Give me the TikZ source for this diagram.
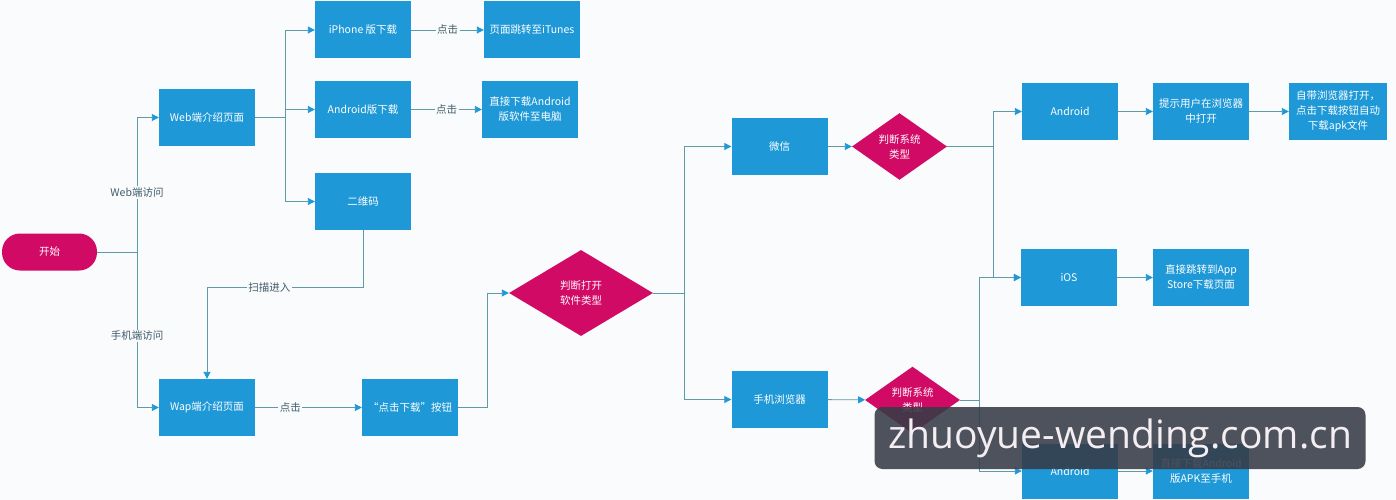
\documentclass[tikz,border=0pt]{standalone}
\usepackage{fontspec}
\setmainfont{Noto Sans CJK SC}
\newfontfamily\wmfont{Open Sans}
\usetikzlibrary{shapes.geometric,arrows.meta}
\definecolor{bg}{HTML}{F9FBFC}
\definecolor{boxblue}{HTML}{1E98D7}
\definecolor{mag}{HTML}{D10A66}
\definecolor{lin}{HTML}{5E9AA8}
\definecolor{lbl}{HTML}{3F5D6A}
\definecolor{wmbg}{HTML}{363B47}
\definecolor{wmtx}{HTML}{F4EEF2}
\begin{document}
\begin{tikzpicture}[x=1pt,y=-1pt,
  box/.style={rectangle, fill=boxblue, text=white, minimum width=96pt, minimum height=57pt, inner sep=0pt, align=center, font=\fontsize{10.5}{15}\selectfont},
  dia/.style={diamond, fill=mag, text=white, inner sep=0pt, align=center, font=\fontsize{10.5}{15}\selectfont},
  conn/.style={draw=lin, line width=0.9pt, -{Triangle[width=7pt,length=7pt,color=boxblue]}},
  plain/.style={draw=lin, line width=0.9pt},
  lab/.style={fill=bg, text=lbl, inner sep=1.5pt, font=\fontsize{10.5}{13}\selectfont}
]
\fill[bg] (0,0) rectangle (1396,500);
\useasboundingbox (0,0) rectangle (1396,500);

% nodes
\node[rectangle, rounded corners=18pt, fill=mag, text=white, minimum width=95pt, minimum height=37pt, inner sep=0pt, font=\fontsize{10.5}{13}\selectfont] (start) at (49.5,252) {开始};
\node[box] (web) at (207,117.5) {Web端介绍页面};
\node[box] (iph) at (363,30) {iPhone 版下载};
\node[box] (itu) at (532,30) {页面跳转至iTunes};
\node[box] (andl) at (363,109.5) {Android版下载};
\node[box] (andpc) at (530,109.5) {直接下载Android\\版软件至电脑};
\node[box] (qr) at (363,201.5) {二维码};
\node[box] (wap) at (207,407.5) {Wap端介绍页面};
\node[box] (btn) at (410,407.5) {“点击下载”按钮};
\node[dia, minimum width=144pt, minimum height=86pt] (d1) at (581,293) {判断打开\\软件类型};
\node[box] (wx) at (779.5,146.5) {微信};
\node[dia, minimum width=95pt, minimum height=57pt] (d2) at (899.5,146.5) {判断系统\\类型};
\node[box] (mb) at (779.5,399.5) {手机浏览器};
\node[dia, minimum width=95pt, minimum height=57pt] (d3) at (912.5,400) {判断系统\\类型};
\node[box] (a1) at (1070,111.5) {Android};
\node[box] (tip) at (1201,111.5) {提示用户在浏览器\\中打开};
\node[box, minimum width=98pt] (self) at (1338,111.5) {自带浏览器打开，\\点击下载按钮自动\\下载apk文件};
\node[box] (ios) at (1069,277.5) {iOS};
\node[box] (store) at (1201,277.5) {直接跳转到App\\Store下载页面};
\node[box, minimum height=55pt] (a2) at (1070,471) {Android};
\node[box, minimum height=55pt] (apk) at (1201,471) {直接下载Android\\版APK至手机};

% junctions
\coordinate (jS) at (137,252);
\coordinate (jW) at (285,117.5);
\coordinate (jQ) at (363,287);
\coordinate (jB) at (487,407.5);
\coordinate (jD) at (684,293);
\coordinate (jX) at (993,146.5);
\coordinate (jM) at (979,400);

% connectors
\draw[plain] (start.east) -- (jS);
\draw[conn] (jS) |- node[lab, pos=0.22]{Web端访问} (web.west);
\draw[conn] (jS) |- node[lab, pos=0.27]{手机端访问} (wap.west);
\draw[plain] (web.east) -- (jW);
\draw[conn] (jW) |- (iph.west);
\draw[conn] (jW) |- (andl.west);
\draw[conn] (jW) |- (qr.west);
\draw[conn] (iph) -- node[lab]{点击} (itu);
\draw[conn] (andl) -- node[lab]{点击} (andpc);
\draw[conn] (qr.south) -- (jQ) -- node[lab, pos=0.6]{扫描进入} (jQ -| wap.north) -- (wap.north);
\draw[conn] (wap) -- node[lab, pos=0.33]{点击} (btn);
\draw[plain] (btn.east) -- (jB);
\draw[conn] (jB) |- (d1.west);
\draw[plain] (d1.east) -- (jD);
\draw[conn] (jD) |- (wx.west);
\draw[conn] (jD) |- (mb.west);
\draw[conn] (wx) -- (d2);
\draw[plain] (d2.east) -- (jX);
\draw[conn] (jX) |- (a1.west);
\draw[conn] (jX) |- (ios.west);
\draw[conn] (mb) -- (d3);
\draw[plain] (d3.east) -- (jM);
\draw[conn] (jM) |- (ios.west);
\draw[conn] (jM) |- (a2.west);
\draw[conn] (a1) -- (tip);
\draw[conn] (tip) -- (self);
\draw[conn] (ios) -- (store);
\draw[conn] (a2) -- (apk);

% watermark
\node[fill=wmbg, fill opacity=0.88, text opacity=1, text=wmtx, rounded corners=8pt, minimum width=491pt, minimum height=62pt, inner sep=0pt, font=\wmfont\fontsize{39}{39}\selectfont] (wm) at (1120,438) {zhuoyue-wending.com.cn};
\end{tikzpicture}
\end{document}
